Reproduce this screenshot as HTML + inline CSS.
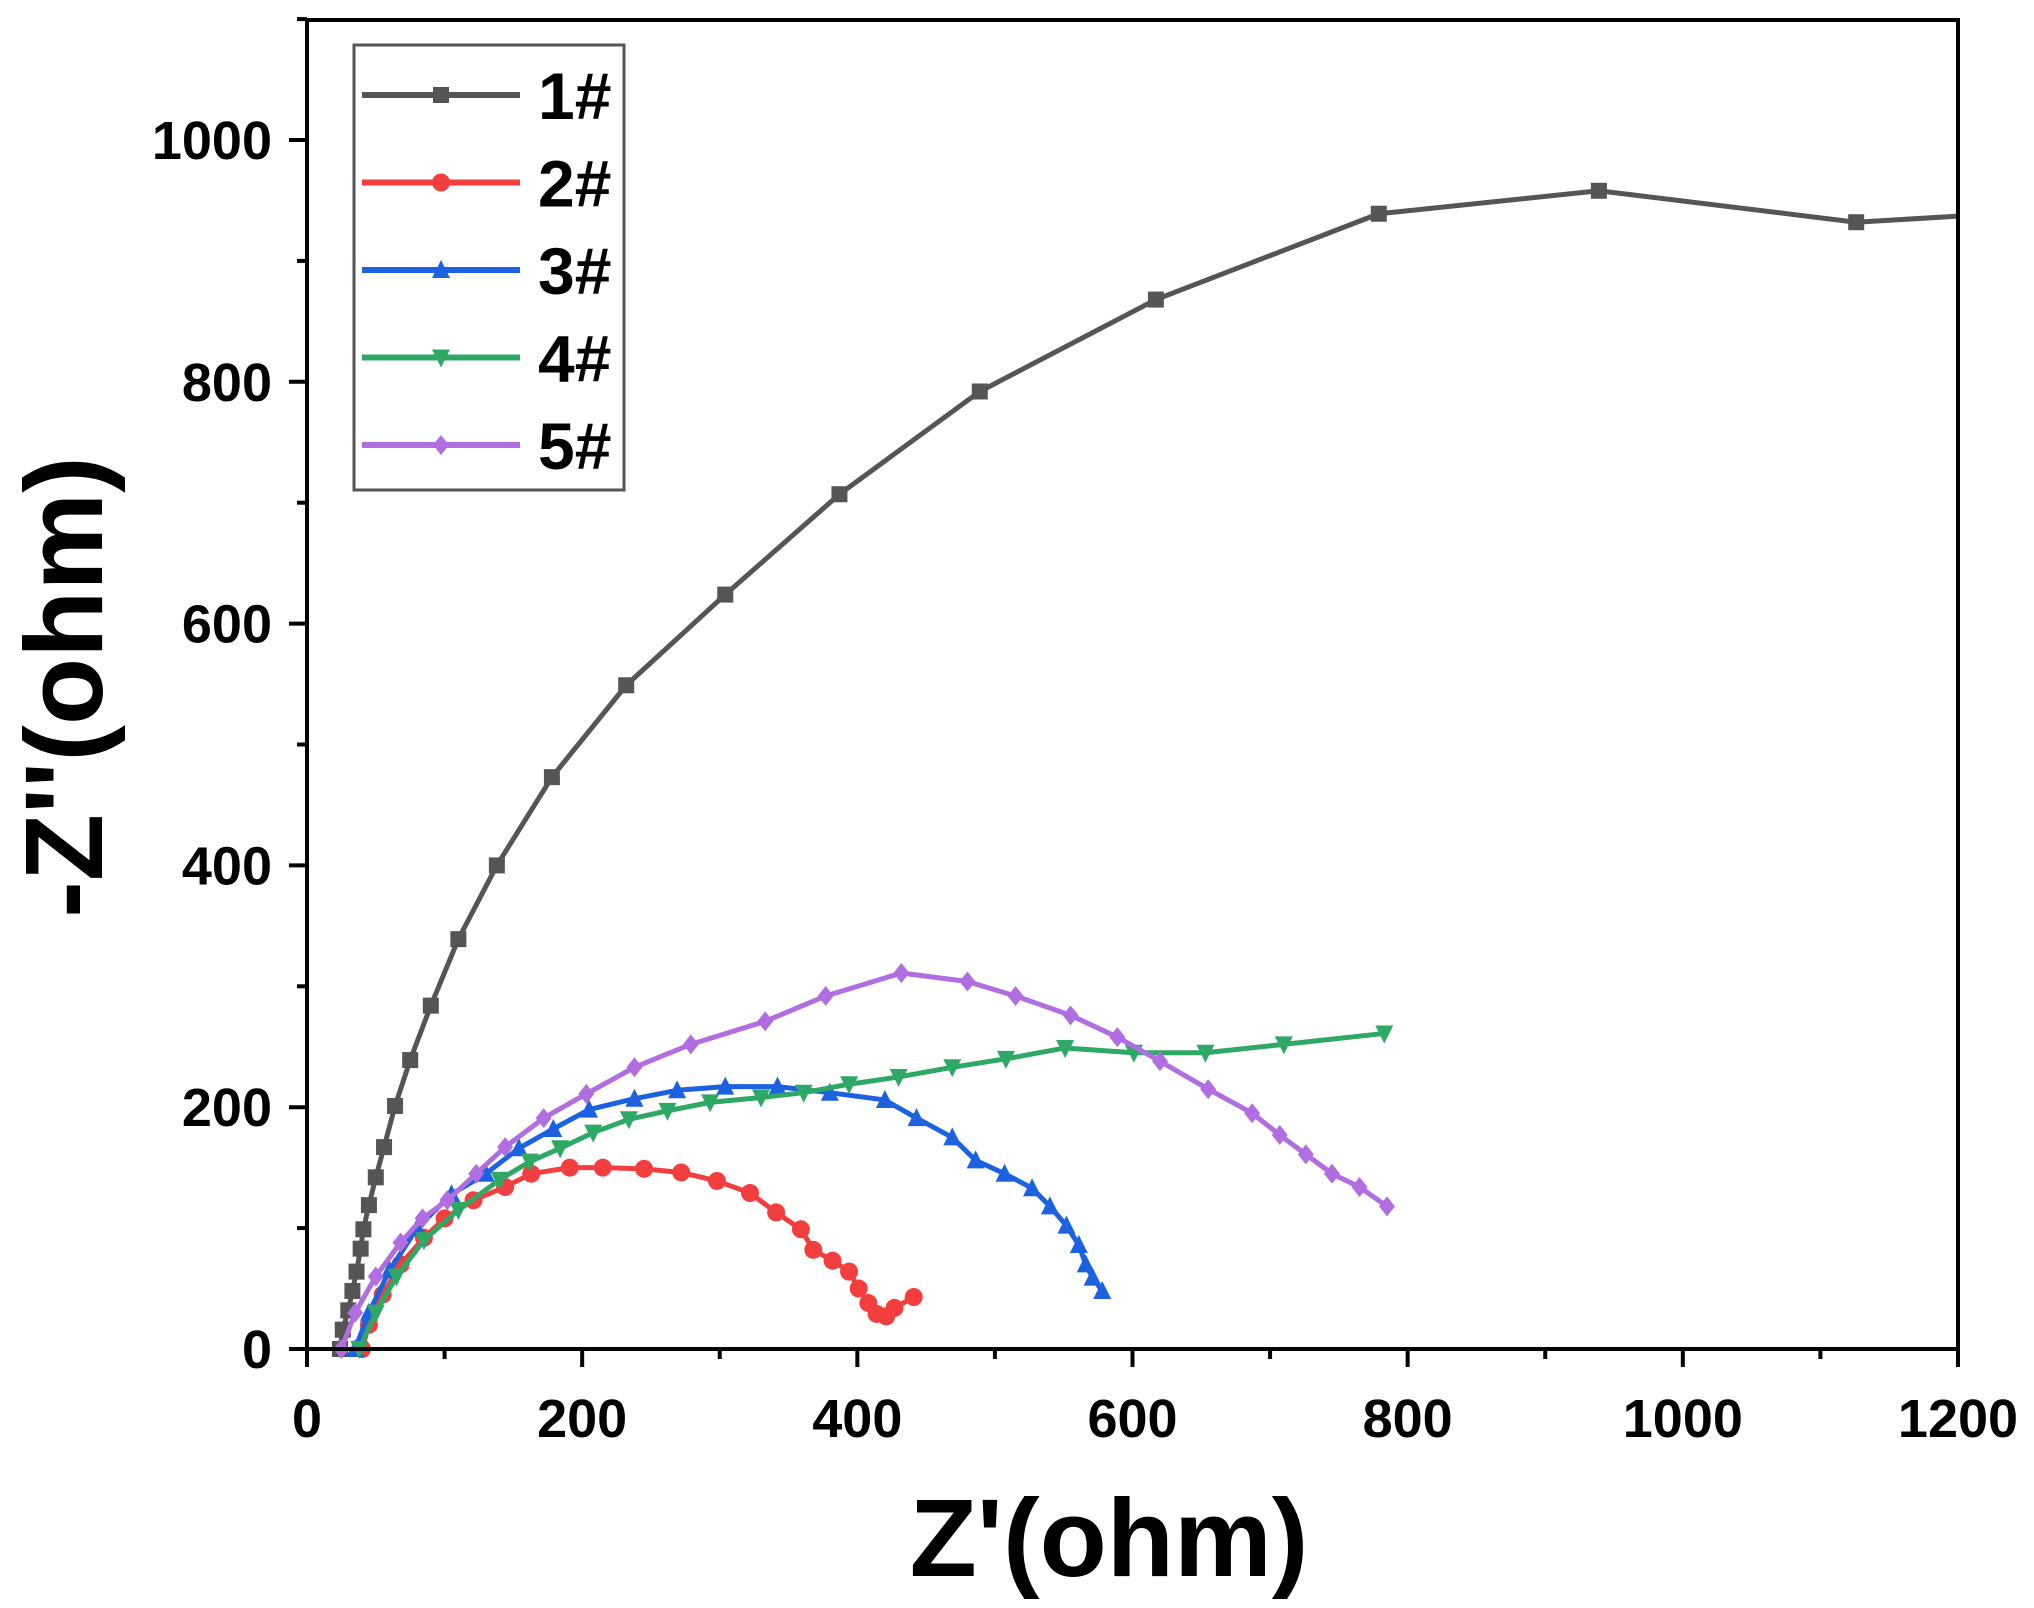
<!DOCTYPE html>
<html><head><meta charset="utf-8"><style>
html,body{margin:0;padding:0;background:#fff;}
svg{display:block;}
text{font-family:"Liberation Sans",Arial,sans-serif;font-weight:bold;fill:#000;}
</style></head><body>
<svg id="s" width="2034" height="1608" xmlns="http://www.w3.org/2000/svg">
<rect width="2034" height="1608" fill="#fff"/>
<g id="plot"></g>
<rect x="307" y="20" width="1651" height="1329" fill="none" stroke="#000" stroke-width="4"/>
<g id="axes" stroke="#000" stroke-width="4"></g>
<g id="labels" font-size="54"></g>
<text x="1109" y="1576" font-size="110" text-anchor="middle">Z'(ohm)</text>
<text transform="translate(102,687) rotate(-90)" font-size="110" text-anchor="middle">-Z''(ohm)</text>
<rect x="354" y="45" width="270" height="445" fill="#fff" stroke="#555" stroke-width="3"/>
<g id="legend"></g>
</svg>
<script>
const NS="http://www.w3.org/2000/svg";
const X=v=>307+v*1651/1200, Y=v=>1349-v*1.209;
function el(t,a,p){const e=document.createElementNS(NS,t);for(const k in a)e.setAttribute(k,a[k]);p.appendChild(e);return e;}
const axes=document.getElementById('axes'),labels=document.getElementById('labels');
for(let v=0;v<=1200;v+=100){const x=X(v),maj=v%200==0;el('line',{x1:x,y1:1349,x2:x,y2:1349+(maj?18:10)},axes);
 if(maj){const t=el('text',{x:x,y:1437,'text-anchor':'middle'},labels);t.textContent=v;}}
for(let v=0;v<=1100;v+=100){const y=Y(v),maj=v%200==0;el('line',{x1:307,y1:y,x2:307-(maj?18:10),y2:y},axes);
 if(maj){const t=el('text',{x:272,y:y+19,'text-anchor':'end'},labels);t.textContent=v;}}
const S=[
{c:'#555555',m:'sq',d:[[24,0],[26,16],[30,32],[33,48],[36,64],[39,83],[41,99],[45,119],[50,142],[56,167],[64,201],[75,239],[90,284],[110,339],[138,400],[178,473],[232,549],[304,624],[387,707],[489,792],[617,868],[779,939],[939,958],[1126,932],[1200,937]]},
{c:'#f23e3e',m:'ci',d:[[40,0],[45,20],[55,45],[68,70],[85,92],[100,108],[121,123],[144,134],[163,145],[191,150],[215,150],[245,149],[272,146],[298,139],[322,129],[341,113],[359,99],[368,82],[382,73],[394,64],[401,50],[408,38],[414,29],[421,27],[427,34],[441,43]]},
{c:'#1c62e0',m:'up',d:[[35,0],[45,30],[60,65],[80,100],[105,128],[130,145],[154,166],[179,182],[205,198],[238,207],[269,214],[304,217],[342,217],[380,212],[420,206],[443,191],[469,175],[486,156],[507,145],[527,133],[540,118],[552,102],[561,86],[566,70],[571,59],[578,48]]},
{c:'#2ea865',m:'dn',d:[[38,0],[50,30],[65,60],[85,90],[110,115],[140,140],[162,155],[184,166],[208,179],[234,190],[262,197],[293,204],[330,208],[361,212],[394,219],[430,225],[469,233],[508,240],[551,249],[601,245],[653,245],[710,252],[783,261]]},
{c:'#b06ee0',m:'di',d:[[25,0],[35,30],[50,60],[68,88],[84,108],[102,123],[123,145],[144,167],[172,191],[203,211],[238,233],[279,252],[333,271],[377,292],[432,311],[480,304],[515,292],[555,276],[589,258],[620,238],[655,215],[687,195],[707,177],[726,161],[745,145],[765,134],[785,118]]}];
function mark(m,x,y,c,p){const r=8;
 if(m=='sq')el('rect',{x:x-r,y:y-r,width:2*r,height:2*r,fill:c},p);
 else if(m=='ci')el('circle',{cx:x,cy:y,r:r+1,fill:c},p);
 else if(m=='up')el('polygon',{points:`${x},${y-r-2} ${x-r-1},${y+r} ${x+r+1},${y+r}`,fill:c},p);
 else if(m=='dn')el('polygon',{points:`${x},${y+r+2} ${x-r-1},${y-r} ${x+r+1},${y-r}`,fill:c},p);
 else el('polygon',{points:`${x},${y-r-2} ${x+r},${y} ${x},${y+r+2} ${x-r},${y}`,fill:c},p);}
const plot=document.getElementById('plot');
S.forEach(s=>{el('polyline',{points:s.d.map(p=>X(p[0])+','+Y(p[1])).join(' '),fill:'none',stroke:s.c,'stroke-width':5,'stroke-linejoin':'round'},plot);
 s.d.forEach(p=>{if(p[0]<1200)mark(s.m,X(p[0]),Y(p[1]),s.c,plot);});});
const lg=document.getElementById('legend');
S.forEach((s,i)=>{const y=95+i*87.5;el('line',{x1:362,y1:y,x2:520,y2:y,stroke:s.c,'stroke-width':6},lg);mark(s.m,441,y,s.c,lg);
 const t=el('text',{x:538,y:y+24,'font-size':66},lg);t.textContent=(i+1)+'#';});
</script>
</body></html>
